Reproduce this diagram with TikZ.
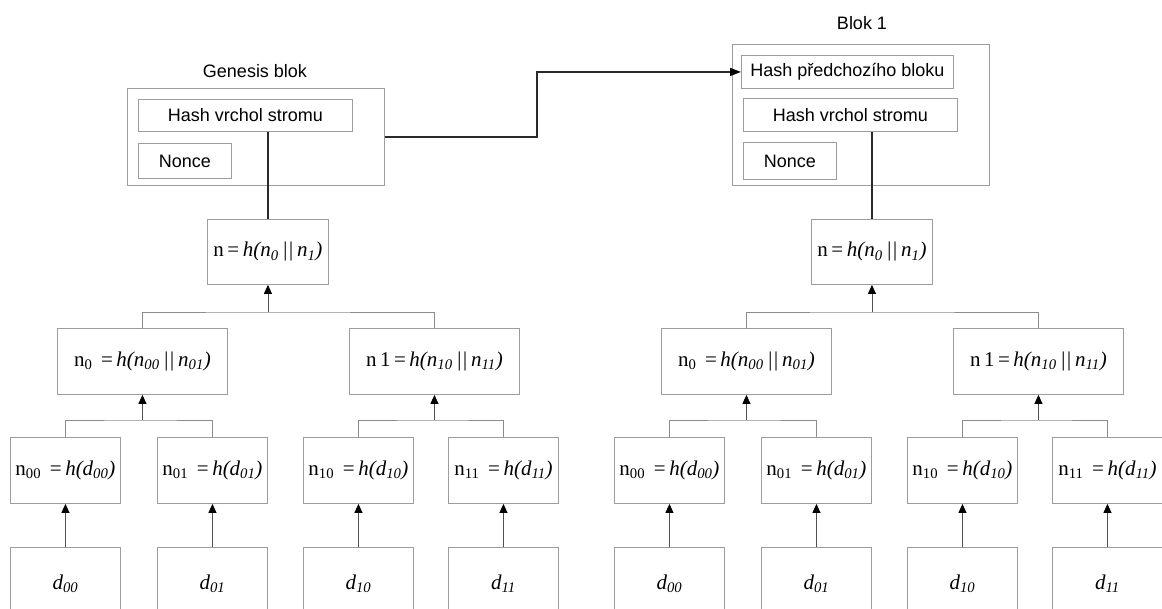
\documentclass[tikz,border=0pt]{standalone}
\usepackage{fontspec}
\setmainfont{Liberation Serif}
\newfontfamily\labelfont{Liberation Sans}
\usetikzlibrary{arrows.meta}
\definecolor{boxgray}{HTML}{9C9C9C}
\definecolor{linkgray}{HTML}{8C8C8C}
\definecolor{shaftgray}{HTML}{505050}
\definecolor{stemgray}{HTML}{2A2A2A}

% formula helpers
\newcommand{\sub}[1]{\textsubscript{#1}}
\newcommand{\hfn}[1]{\textit{h(#1)}}

\begin{document}
\begin{tikzpicture}[x=1pt,y=-1pt,
  cell/.style={draw=boxgray, line width=0.9pt, rectangle, inner sep=0pt,
    anchor=north west, font=\fontsize{21}{23}\selectfont},
  field/.style={cell, font=\labelfont\fontsize{18}{20}\selectfont},
  frame/.style={draw=boxgray, line width=0.9pt, rectangle, inner sep=0pt, anchor=north west},
  caption/.style={font=\labelfont\fontsize{18}{20}\selectfont, inner sep=0pt},
  link/.style={draw=linkgray, line width=0.9pt},
  arr/.style={draw=shaftgray, line width=0.9pt,
    -{Triangle[width=8pt,length=9pt,color=black]}},
  stem/.style={draw=stemgray, line width=1.2pt},
  chain/.style={draw=stemgray, line width=1.4pt,
    -{Triangle[width=8pt,length=11pt,color=black]}}
]
\useasboundingbox (0,0) rectangle (1162,608);
\clip (0,0) rectangle (1162,608);

% ---- Genesis block header ----
\node[caption] (gtitle) at (255,71) {Genesis blok};
\node[frame, minimum width=257pt, minimum height=97pt] (gblk) at (127,88) {};
\node[field, minimum width=214pt, minimum height=32pt] (ghash) at (138,99) {Hash vrchol stromu};
\node[field, minimum width=93pt, minimum height=35pt] (gnonce) at (138,143) {Nonce};

% ---- Block 1 header ----
\node[caption] (btitle) at (862,23) {Blok 1};
\node[frame, minimum width=257pt, minimum height=141pt] (bblk) at (732,44) {};
\node[field, minimum width=212pt, minimum height=33pt] (bprev) at (741,55) {Hash předchozího bloku};
\node[field, minimum width=214pt, minimum height=33pt] (bhash) at (743,98) {Hash vrchol stromu};
\node[field, minimum width=93pt, minimum height=37pt] (bnonce) at (743,142) {Nonce};

% ---- Merkle trees ----
\foreach \p/\dx in {L/0, R/604}{
  \begin{scope}[xshift=\dx]
    \node[cell, minimum width=121pt, minimum height=65pt] (\p n) at (207,219)
      {n\,=\,\hfn{n\sub{0}\,||\,n\sub{1}}};
    \node[cell, minimum width=170pt, minimum height=66pt] (\p n0) at (57,328)
      {n\sub{0}\ \,=\,\hfn{n\sub{00}\,||\,n\sub{01}}};
    \node[cell, minimum width=170pt, minimum height=66pt] (\p n1) at (349,328)
      {n\,1\,=\,\hfn{n\sub{10}\,||\,n\sub{11}}};
    \node[cell, minimum width=110pt, minimum height=66pt] (\p n00) at (10,437)
      {n\sub{00}\ \,=\,\hfn{d\sub{00}}};
    \node[cell, minimum width=110pt, minimum height=66pt] (\p n01) at (157,437)
      {n\sub{01}\ \,=\,\hfn{d\sub{01}}};
    \node[cell, minimum width=110pt, minimum height=66pt] (\p n10) at (303,437)
      {n\sub{10}\ \,=\,\hfn{d\sub{10}}};
    \node[cell, minimum width=110pt, minimum height=66pt] (\p n11) at (448,437)
      {n\sub{11}\ \,=\,\hfn{d\sub{11}}};
    \node[cell, minimum width=110pt, minimum height=72pt] (\p d00) at (10,547) {\textit{d\sub{00}}};
    \node[cell, minimum width=110pt, minimum height=72pt] (\p d01) at (157,547) {\textit{d\sub{01}}};
    \node[cell, minimum width=110pt, minimum height=72pt] (\p d10) at (303,547) {\textit{d\sub{10}}};
    \node[cell, minimum width=110pt, minimum height=72pt] (\p d11) at (448,547) {\textit{d\sub{11}}};
  \end{scope}

  % junctions where sibling pairs meet
  \coordinate (\p j) at (\p n.south |- 0,312);
  \coordinate (\p j0) at (\p n0.south |- 0,420);
  \coordinate (\p j1) at (\p n1.south |- 0,420);

  \draw[link] (\p n0.north) |- (\p j) -| (\p n1.north);
  \draw[arr] (\p j) -- (\p n.south);
  \draw[link] (\p n00.north) |- (\p j0) -| (\p n01.north);
  \draw[arr] (\p j0) -- (\p n0.south);
  \draw[link] (\p n10.north) |- (\p j1) -| (\p n11.north);
  \draw[arr] (\p j1) -- (\p n1.south);

  \draw[arr] (\p d00.north) -- (\p n00.south);
  \draw[arr] (\p d01.north) -- (\p n01.south);
  \draw[arr] (\p d10.north) -- (\p n10.south);
  \draw[arr] (\p d11.north) -- (\p n11.south);
}

% root hashes stored in the block headers
\draw[stem] (Ln.north) -- (Ln.north |- ghash.south);
\draw[stem] (Rn.north) -- (Rn.north |- bhash.south);

% link from the genesis block to the next block
\coordinate (elbow) at (537,100);
\draw[chain] (gblk.east) -- (gblk.east -| elbow) |- (bprev.west);
\end{tikzpicture}
\end{document}
